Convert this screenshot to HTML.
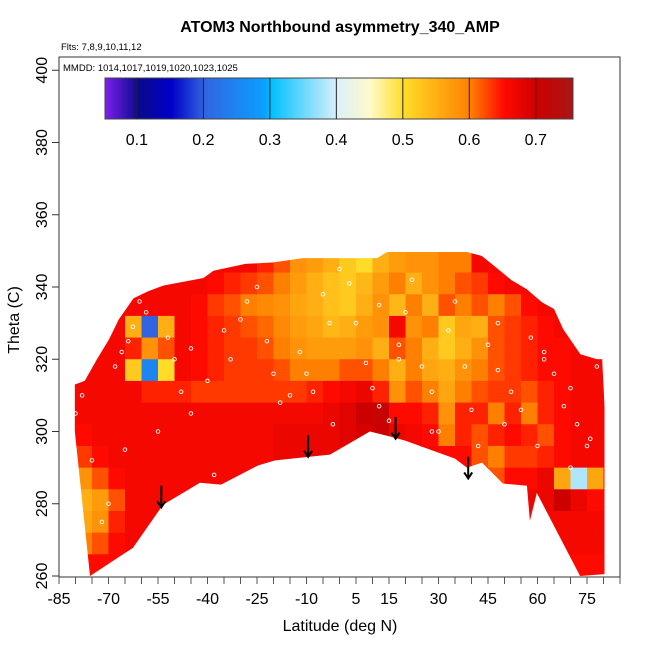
<!DOCTYPE html>
<html><head><meta charset="utf-8"><style>
body{margin:0;background:#fff}
svg{display:block;font-family:"Liberation Sans",sans-serif}
</style></head><body>
<svg id="chart" width="650" height="650" viewBox="0 0 650 650">
<text x="340" y="32" text-anchor="middle" font-size="16" font-weight="bold">ATOM3 Northbound asymmetry_340_AMP</text>
<text x="61" y="50" font-size="9.5">Flts: 7,8,9,10,11,12</text>
<defs><clipPath id="env"><polygon id="envpoly"/></clipPath></defs>
<g id="cells" clip-path="url(#env)"></g>
<g id="pts"></g>
<g id="arrows"></g>
<rect x="59" y="57" width="561" height="520" fill="none" stroke="#333" stroke-width="1"/>
<text x="63" y="71" font-size="9.5">MMDD: 1014,1017,1019,1020,1023,1025</text>
<g id="cbar"></g>
<g id="xaxis"></g>
<g id="yaxis"></g>
<text x="340" y="631" text-anchor="middle" font-size="16">Latitude (deg N)</text>
<text transform="translate(19,320) rotate(-90)" text-anchor="middle" font-size="16">Theta (C)</text>
</svg>
<script>
const latCenters=[-82.5,-77.5,-72.5,-67.5,-62.5,-57.5,-52.5,-47.5,-42.5,-37.5,-32.5,-27.5,-22.5,-17.5,-12.5,-7.5,-2.5,2.5,7.5,12.5,17.5,22.5,27.5,32.5,37.5,42.5,47.5,52.5,57.5,62.5,67.5,72.5,77.5,82.5];
const thetaBottoms=[344,338,332,326,320,314,308,302,296,290,284,278,272,266,260];
const r0=[66,66,66,66,66,66,66,66,66,66,66,66,64,62,58,57,55,52,50,55,57,58,58,60,60,66,66,66,66,66,66,66,66,66];
const r1=[66,66,66,66,66,66,66,66,66,65,64,63,62,60,57,55,53,52,54,57,60,55,58,60,62,63,65,66,66,66,66,66,66,66];
const r2=[66,66,66,66,66,66,66,66,65,63,62,60,59,58,56,55,53,52,55,58,54,60,55,62,60,62,60,62,65,66,66,66,66,66];
const r3=[66,66,66,66,55,20,55,66,65,64,63,62,61,59,57,56,54,55,57,58,66,58,60,52,56,55,62,63,64,65,66,66,66,66];
const r4=[66,66,66,66,64,58,62,66,65,64,63,63,62,60,58,57,57,57,58,55,62,60,55,52,55,58,62,63,64,65,65,66,66,66];
const r5=[66,66,66,66,52,25,50,66,65,64,63,63,63,62,60,60,60,62,62,60,55,60,56,55,58,60,62,63,64,65,65,66,66,66];
const r6=[66,66,66,66,66,64,64,64,63,63,63,63,63,63,63,64,65,66,67,64,58,62,60,56,60,62,63,63,62,64,65,66,66,66];
const r7=[66,66,66,66,66,66,66,66,66,66,66,66,66,66,66,66,67,68,70,71,65,65,64,58,64,64,60,64,60,64,65,66,66,66];
const r8=[65,65,66,66,66,66,66,66,66,66,66,66,66,67,67,67,67,68,69,70,67,66,65,60,64,62,64,65,64,62,65,66,66,66];
const r9=[63,63,65,66,66,66,66,66,66,66,66,66,66,67,67,67,67,67,67,67,67,66,66,65,65,62,60,63,63,64,65,66,66,66];
const r10=[60,58,62,65,66,66,66,66,66,66,66,66,66,66,66,66,66,66,66,66,66,66,66,66,65,65,62,65,65,67,56,38,56,65];
const r11=[60,55,57,62,66,66,66,66,66,66,66,66,66,66,66,66,66,66,66,66,66,66,66,66,66,66,66,66,67,67,70,67,65,65];
const r12=[62,56,58,64,66,66,66,66,66,66,66,66,66,66,66,66,66,66,66,66,66,66,66,66,66,66,66,66,66,66,66,66,66,66];
const r13=[64,60,62,65,66,66,66,66,66,66,66,66,66,66,66,66,66,66,66,66,66,66,66,66,66,66,66,66,66,66,66,66,66,66];
const r14=[65,65,65,65,65,65,65,65,65,65,65,65,65,65,65,65,65,65,65,65,65,65,65,65,65,65,65,65,65,65,65,65,65,65];
const gridRows=[r0,r1,r2,r3,r4,r5,r6,r7,r8,r9,r10,r11,r12,r13,r14];
const envLat=[-75.6,-62.6,-53.5,-42.3,-35.9,-24.7,-19.5,-2.9,9.2,15.3,19.8,35,38.6,43.2,49.5,56.8,57.7,59.8,72.9,79.8,80.3,80.3,79.6,78,73,67.8,65,61.3,56.7,52.1,47.6,43.1,38.6,26.5,14.4,11.4,4.8,-11,-20,-28.5,-38.2,-41.2,-53.3,-57.8,-62.4,-66.9,-69.9,-73.5,-77.2,-80.2,-80.2];
const envTheta=[260,267.8,279.7,285.8,285.3,290.6,292,293.6,300,298.6,297.5,292.5,290,291.4,285.6,285,275.3,283,260,260.5,260.5,307,320,320,321.4,328.3,333.9,335.8,339.4,341.9,345.3,348.6,349.7,349.7,349.7,348,348,348,346.8,346.4,344.5,342.5,340.4,338.9,336.9,331,325.4,320,314,313,300];
const ptLat=[-60.6,-58.6,-62.6,-64,-66,-68,-52,-50,-48,-45,-40,-35,-33,-30,-28,-25,-22,-20,-18,-12,-10,-8,-5,-3,0,3,5,8,10,12,15,18,20,22,25,28,30,33,35,38,40,42,45,48,50,52,55,58,60,62,65,68,70,72,75,78,-78,-80,-75,-70,-65,-55,-45,-38,-15,18,28,-2,12,48,62,70,76,-72,-82];
const ptTheta=[336,333,329,325,322,318,326,320,311,323,314,328,320,331,336,340,325,316,308,322,316,311,338,330,345,341,330,319,312,307,303,324,333,342,318,311,300,328,336,318,306,296,324,317,302,311,306,326,296,320,316,307,290,302,296,318,310,305,292,280,295,300,305,288,310,320,300,302,335,330,322,312,298,275,312];
const arrowLat=[-54,-9.5,17,39];
const arrowTheta=[285,299,304,293];
const xTicks=[-85,-70,-55,-40,-25,-10,5,15,30,45,60,75];
const yTicks=[260,280,300,320,340,360,380,400];
const cbTicks=[0.1,0.2,0.3,0.4,0.5,0.6,0.7];

const NS='http://www.w3.org/2000/svg';
const X=l=>59+(l+85)*3.3;
const Y=t=>576-(t-260)*3.6125;
const stops=[[0.05,[127,32,240]],[0.1,[10,10,140]],[0.15,[0,0,200]],[0.2,[50,100,225]],[0.29,[10,160,255]],[0.3,[0,192,255]],[0.4,[220,240,250]],[0.45,[255,250,200]],[0.5,[255,220,40]],[0.6,[255,128,0]],[0.65,[255,10,0]],[0.7,[205,0,0]],[0.76,[165,25,25]]];
function col(v){
  if(v<=stops[0][0])return 'rgb('+stops[0][1]+')';
  for(let i=1;i<stops.length;i++){if(v<=stops[i][0]){const a=stops[i-1],b=stops[i],f=(v-a[0])/(b[0]-a[0]);return 'rgb('+a[1].map((c,k)=>Math.round(c+(b[1][k]-c)*f)).join(',')+')';}}
  return 'rgb('+stops[stops.length-1][1]+')';
}
function mk(tag,attrs,parent){const e=document.createElementNS(NS,tag);for(const k in attrs)e.setAttribute(k,attrs[k]);parent.appendChild(e);return e;}
document.getElementById('envpoly').setAttribute('points',envLat.map((l,i)=>X(l)+','+Y(envTheta[i])).join(' '));
const cells=document.getElementById('cells');
gridRows.forEach((row,ri)=>{row.forEach((v,ci)=>{
  const r=mk('rect',{x:X(latCenters[ci]-2.5),y:Y(thetaBottoms[ri]+6),width:16.8,height:22.2,fill:col(v/100)},cells);
  
  
});});
const pts=document.getElementById('pts');
ptLat.forEach((l,i)=>{
  const c=mk('circle',{cx:X(l),cy:Y(ptTheta[i]),r:1.8,fill:'none',stroke:'#fff','stroke-width':0.9},pts);
  
  
});
const ar=document.getElementById('arrows');
arrowLat.forEach((l,i)=>{
  const g=mk('g',{stroke:'#000','stroke-width':2,fill:'none'},ar);
  
  
  const x=X(l),y1=Y(arrowTheta[i]),y2=Y(arrowTheta[i]-6);
  mk('line',{x1:x,y1:y1,x2:x,y2:y2},g);
  mk('polyline',{points:(x-4)+','+(y2-6)+' '+x+','+y2+' '+(x+4)+','+(y2-6)},g);
});
const cb=document.getElementById('cbar');
const CX=v=>105+(v-0.052)*(468/0.704);
for(let i=0;i<200;i++){const v=0.052+0.704*i/200;mk('rect',{x:CX(v),y:78,width:468/200+0.4,height:41,fill:col(v)},cb);}
mk('rect',{x:105,y:78,width:468,height:41,fill:'none',stroke:'#444','stroke-width':1},cb);
cbTicks.forEach(v=>{
  mk('line',{x1:CX(v),y1:78,x2:CX(v),y2:119,stroke:'#222','stroke-width':1},cb);
  const t=mk('text',{x:CX(v),y:145,'text-anchor':'middle','font-size':16},cb);t.textContent=v.toFixed(1);
  
  
});
const xa=document.getElementById('xaxis');
mk('line',{x1:59,y1:577,x2:620,y2:577,stroke:'#333'},xa);
for(let l=-85;l<=85;l+=5)mk('line',{x1:X(l),y1:577,x2:X(l),y2:584,stroke:'#555'},xa);
xTicks.forEach(l=>{const t=mk('text',{x:X(l),y:604,'text-anchor':'middle','font-size':16},xa);t.textContent=l;
  
  });
const ya=document.getElementById('yaxis');
yTicks.forEach(v=>{mk('line',{x1:52,y1:Y(v),x2:59,y2:Y(v),stroke:'#333'},ya);
  const t=mk('text',{transform:'translate(47,'+Y(v)+') rotate(-90)','text-anchor':'middle','font-size':16},ya);t.textContent=v;
  
  });
</script>
</body></html>
